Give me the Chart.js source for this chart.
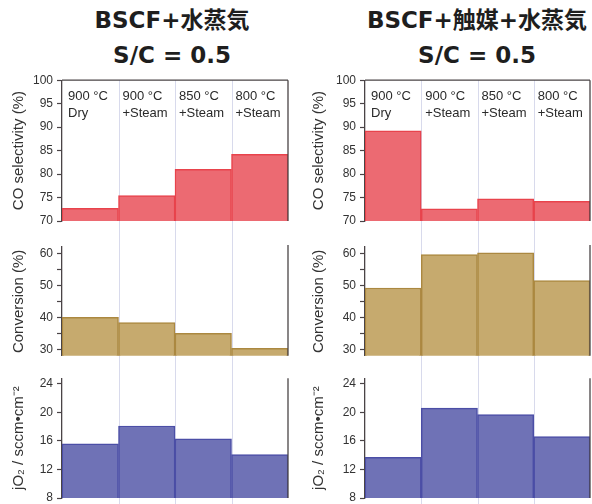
<!DOCTYPE html>
<html><head><meta charset="utf-8">
<script src="https://cdn.jsdelivr.net/npm/chart.js@4.4.1/dist/chart.umd.min.js"></script>
<style>
html,body{margin:0;padding:0;background:#fff;width:592px;height:504px;overflow:hidden;position:relative;}
.t{position:absolute;text-align:center;font-family:"DejaVu Sans","Noto Sans CJK JP",sans-serif;font-weight:bold;color:#1e1e1e;white-space:nowrap;line-height:23px;font-size:23px;}
canvas{position:absolute;}
</style></head><body>
<div class="t" style="left:22px;width:300px;top:9px;">BSCF+水蒸気</div>
<div class="t" style="left:22px;width:300px;top:44px;">S/C = 0.5</div>
<div class="t" style="left:327px;width:300px;top:9px;">BSCF+触媒+水蒸気</div>
<div class="t" style="left:327px;width:300px;top:44px;">S/C = 0.5</div>
<canvas id="c1"></canvas><canvas id="c2"></canvas><canvas id="c3"></canvas>
<canvas id="c4"></canvas><canvas id="c5"></canvas><canvas id="c6"></canvas>
<script>
// ---- data ----
const categories = ['900 °C Dry', '900 °C +Steam', '850 °C +Steam', '800 °C +Steam'];
const catTemps = ['900 °C', '900 °C', '850 °C', '800 °C'];
const catConds = ['Dry', '+Steam', '+Steam', '+Steam'];
const selLeft  = [72.7, 75.4, 81.0, 84.2];
const convLeft = [40.0, 38.4, 35.0, 30.3];
const jo2Left  = [15.6, 18.1, 16.3, 14.1];
const selRight  = [89.2, 72.6, 74.7, 74.2];
const convRight = [49.2, 59.6, 60.2, 51.5];
const jo2Right  = [13.7, 20.6, 19.7, 16.6];
const selTicks = [70, 75, 80, 85, 90, 95, 100];
const convTicks = [30, 35, 40, 45, 50, 55, 60];
const jo2Ticks = [8, 10, 12, 14, 16, 18, 20, 22, 24];

const FONT = '"Liberation Sans", Arial, sans-serif';
const AX = '#4a4446';

const decor = {
  id: 'decor',
  beforeDatasetsDraw(chart, args, o) {
    const ctx = chart.ctx, x = chart.scales.x, a = chart.chartArea;
    const n = chart.data.labels.length;
    ctx.save();
    ctx.strokeStyle = 'rgba(200,202,228,0.7)';
    ctx.lineWidth = 1;
    for (let i = 1; i < n; i++) {
      const px = Math.round((x.getPixelForValue(i - 1) + x.getPixelForValue(i)) / 2) + 0.5;
      ctx.beginPath();
      ctx.moveTo(px, o.gridFromTop ? a.top : 0);
      ctx.lineTo(px, chart.height);
      ctx.stroke();
    }
    ctx.restore();
  },
  afterDatasetsDraw(chart, args, o) {
    const ctx = chart.ctx, x = chart.scales.x, a = chart.chartArea;
    ctx.save();
    ctx.strokeStyle = AX;
    ctx.lineWidth = 1.3;
    ctx.beginPath();
    ctx.moveTo(a.right, a.top - (o.extendTop || 0));
    ctx.lineTo(a.right, a.bottom);
    if (o.topLine) { ctx.moveTo(a.left, a.top); ctx.lineTo(a.right, a.top); }
    ctx.stroke();
    if (o.labels) {
      const w = x.getPixelForValue(1) - x.getPixelForValue(0);
      ctx.fillStyle = '#2a2a2a';
      ctx.font = '13px ' + FONT;
      ctx.textBaseline = 'middle';
      ctx.textAlign = 'left';
      catTemps.forEach((t, i) => {
        const lx = x.getPixelForValue(i) - w / 2 + (i === 0 ? 6 : 4);
        ctx.fillText(t, lx, a.top + 16);
        ctx.fillText(catConds[i], lx, a.top + 33);
      });
    }
    ctx.restore();
  }
};

function makeChart(id, box, pad, axisW, values, fill, border, yMin, yMax, tickList, labelEvery, title, decorOpts) {
  const cv = document.getElementById(id);
  cv.width = box.w; cv.height = box.h;
  cv.style.left = box.x + 'px'; cv.style.top = box.y + 'px';
  cv.style.width = box.w + 'px'; cv.style.height = box.h + 'px';
  return new Chart(cv, {
    type: 'bar',
    data: { labels: categories, datasets: [{ data: values, backgroundColor: fill, borderColor: border, borderWidth: 1.5, categoryPercentage: 1, barPercentage: 1 }] },
    options: {
      responsive: false, animation: false, devicePixelRatio: 1,
      layout: { padding: pad },
      plugins: { legend: { display: false }, tooltip: { enabled: false }, decor: decorOpts },
      scales: {
        x: { display: false },
        y: {
          min: yMin, max: yMax,
          afterFit: s => { s.width = axisW; },
          afterBuildTicks: s => { s.ticks = tickList.map(v => ({ value: v })); },
          ticks: { color: '#333', font: { family: FONT, size: 12 }, padding: 4,
                   callback: v => (v % labelEvery === 0 ? String(v) : '') },
          grid: { drawOnChartArea: false, tickLength: 5, tickColor: AX, tickWidth: 1.2 },
          border: { display: true, color: AX, width: 1.3 },
          title: { display: true, text: title, color: '#333', font: { family: FONT, size: 15 }, padding: { top: 10, bottom: 0 } }
        }
      }
    },
    plugins: [decor]
  });
}

const RED = '#ec6a72', REDB = '#e8434c';
const TAN = '#c6aa6e', TANB = '#ab8840';
const BLU = '#6f72b6', BLUB = '#4b4ea6';
const colL = { x: 0, w: 296, axis: 62, pr: 8 };
const colR = { x: 300, w: 292, axis: 65, pr: 2 };
[[colL, 'c1', 'c2', 'c3', selLeft, convLeft, jo2Left], [colR, 'c4', 'c5', 'c6', selRight, convRight, jo2Right]].forEach(([c, a, b, d, s, cv, j]) => {
  makeChart(a, { x: c.x, y: 69, w: c.w, h: 165 }, { top: 8, bottom: 13, left: 0, right: c.pr }, c.axis, s, RED, REDB, 70, 100, selTicks, 5, 'CO selectivity (%)', { topLine: true, gridFromTop: true, labels: true, extendTop: 0 });
  makeChart(b, { x: c.x, y: 234, w: c.w, h: 133 }, { top: 13, bottom: 7, left: 0, right: c.pr }, c.axis, cv, TAN, TANB, 28, 62, convTicks, 10, 'Conversion (%)', { extendTop: 2 });
  makeChart(d, { x: c.x, y: 367, w: c.w, h: 146 }, { top: 8, bottom: 15, left: 0, right: c.pr }, c.axis, j, BLU, BLUB, 8, 24.8, jo2Ticks, 4, 'jO₂ / sccm•cm⁻²', { extendTop: 0 });
});
</script>
</body></html>
